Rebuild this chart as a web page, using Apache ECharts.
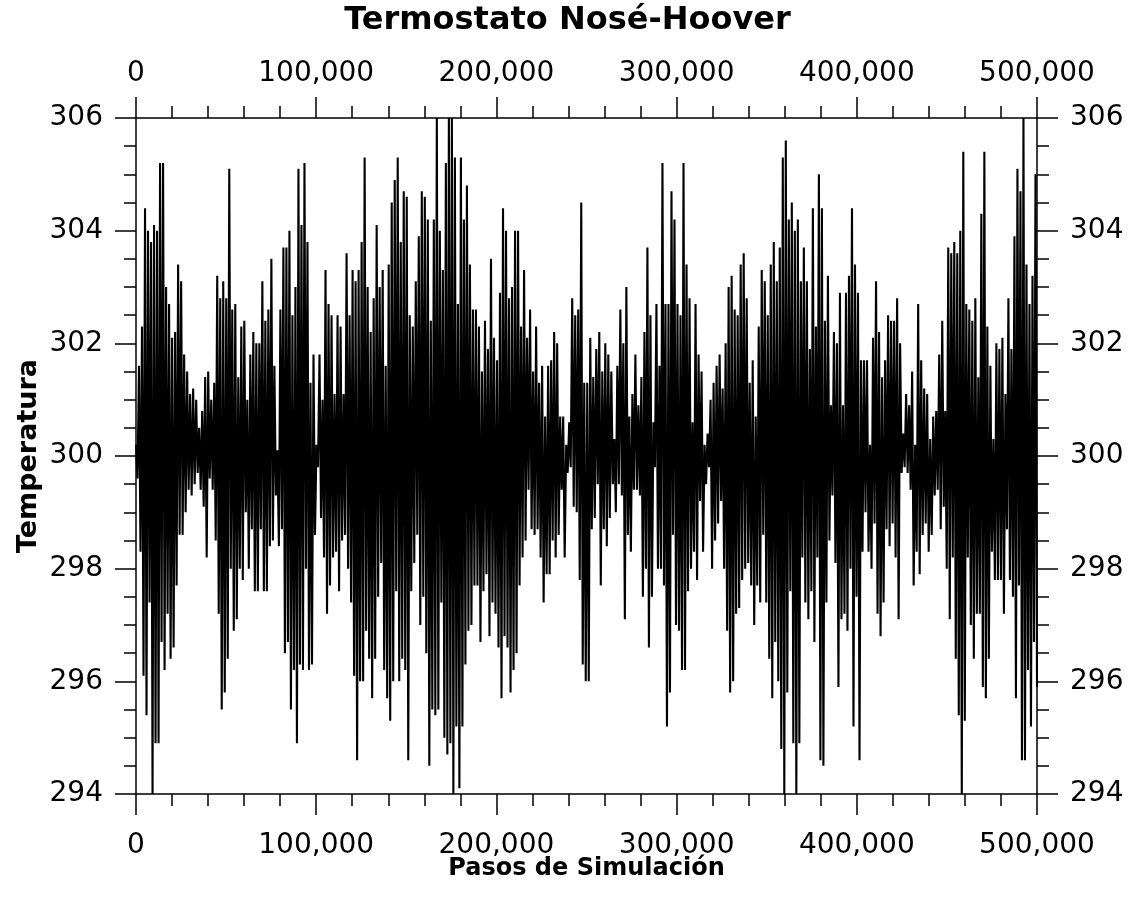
<!DOCTYPE html>
<html><head><meta charset="utf-8">
<script src="https://cdn.jsdelivr.net/npm/echarts@6/dist/echarts.min.js"></script>
<style>html,body{margin:0;padding:0;background:#fff}#c{width:1135px;height:907px}</style>
</head><body><div id="c"></div>
<script>
const chartTitle = 'Termostato Nosé-Hoover';
const xName = 'Pasos de Simulación';
const yName = 'Temperatura';
const xTicks = [0, 100000, 200000, 300000, 400000, 500000];
const yTicks = [294, 296, 298, 300, 302, 304, 306];
const totalSteps = 500000;

// Temperature samples (alternating local highs / lows), in six segments
const seg1 = [300.2,299.6, 301.6,298.3, 302.3,296.1, 304.4,295.4, 304.0,297.4, 303.8,294.0, 304.1,294.9, 304.0,294.9, 305.2,296.7, 305.2,296.2,
303.0,297.2, 302.7,296.4, 302.1,296.6, 302.2,297.7, 303.4,298.6, 303.1,298.6, 301.8,299.0, 301.5,299.4, 301.1,299.3, 301.2,299.5,
301.0,299.7, 300.5,299.4, 300.8,299.1, 301.4,298.2, 301.5,299.6, 301.0,299.4, 301.3,298.5, 303.2,297.2, 302.8,295.5, 303.1,295.8,
302.8,296.4, 305.1,298.0, 302.6,296.9, 302.7,297.1, 301.4,298.0, 302.3,297.8, 302.4,299.0, 301.0,298.0, 301.8,298.7, 302.2,297.6,
302.0,297.6, 302.0,298.7, 303.1,297.6, 302.4,297.6, 302.6,298.4, 303.5,298.5, 301.6,299.3, 300.1,298.4, 302.6,298.7, 303.7,296.5];
const seg2 = [303.7,296.7, 304.0,295.5, 302.5,296.2, 303.0,294.9, 305.1,296.3, 304.1,296.2, 305.2,298.0, 303.8,296.2, 301.3,296.3, 301.8,298.6,
300.2,299.8, 301.8,298.9, 301.0,298.2, 303.3,297.2, 302.7,297.7, 302.5,298.2, 301.1,298.3, 302.5,297.6, 302.3,298.5, 301.1,298.6,
303.6,298.0, 302.5,297.4, 303.3,296.1, 303.1,294.6, 303.3,296.0, 303.8,296.0, 305.3,296.9, 303.0,296.4, 302.2,295.7, 302.8,296.4,
304.1,297.5, 303.0,298.1, 303.3,296.2, 301.6,295.7, 303.4,295.3, 304.5,296.0, 304.9,297.6, 305.3,296.0, 303.8,296.4, 304.7,296.2,
304.6,294.6, 302.5,297.6, 302.3,298.1, 303.1,298.6, 303.9,297.0, 304.7,297.5, 304.6,296.5, 304.2,294.5, 302.4,295.5, 304.2,295.4];
const seg3 = [306.0,295.5, 304.0,297.4, 303.3,295.0, 305.2,294.7, 306.0,294.9, 306.0,294.0, 305.3,295.2, 302.7,294.1, 305.3,295.2, 304.2,296.3,
304.8,296.9, 303.4,297.0, 302.6,297.7, 302.6,297.7, 302.3,296.7, 301.5,297.6, 302.4,297.9, 301.9,296.8, 303.5,297.4, 302.1,297.2,
301.7,296.6, 302.9,295.7, 304.4,296.8, 304.0,296.6, 302.8,295.8, 303.0,296.2, 304.0,296.5, 304.0,297.7, 302.3,298.2, 303.3,298.5,
302.1,299.4, 302.6,298.7, 301.5,298.6, 302.3,298.7, 301.3,298.2, 301.6,297.4, 300.7,297.9, 301.6,297.9, 301.7,298.5, 302.2,298.2,
302.0,298.6, 300.7,299.4, 300.7,298.2, 300.2,299.7, 300.6,299.8, 302.8,299.1, 302.5,299.0, 302.6,297.8, 304.5,296.3, 301.3,296.0];
const seg4 = [301.3,296.0, 302.1,298.7, 301.4,298.9, 301.9,299.5, 302.2,297.7, 301.5,298.7, 302.0,298.4, 301.8,298.9, 301.5,299.5, 300.3,299.0,
301.6,299.5, 302.6,299.3, 302.0,297.1, 303.0,298.6, 300.7,298.3, 301.1,299.4, 301.8,299.4, 300.9,299.3, 301.4,297.5, 302.2,298.0,
303.7,296.6, 302.5,297.5, 300.6,299.8, 302.7,298.0, 301.6,298.0, 305.2,297.7, 302.7,295.2, 302.7,295.8, 304.7,298.6, 304.2,297.0,
302.7,296.9, 302.5,296.2, 305.2,296.2, 303.4,297.6, 302.8,298.0, 300.6,298.3, 302.7,297.8, 301.8,299.2, 301.5,298.3, 300.2,299.5,
300.4,299.8, 301.0,298.0, 301.3,298.5, 301.6,298.8, 301.8,299.2, 301.2,298.0, 302.0,296.9, 303.0,295.8, 303.2,296.0, 302.6,297.2];
const seg5 = [302.5,297.3, 303.4,297.8, 303.6,298.0, 302.8,298.1, 301.3,297.7, 301.7,297.0, 300.7,297.7, 302.3,297.4, 303.3,298.6, 303.1,297.4,
302.5,296.4, 303.4,295.7, 303.8,296.7, 303.1,296.0, 303.7,294.8, 305.3,294.0, 305.6,295.8, 304.2,297.6, 304.5,294.9, 304.0,294.0,
304.2,294.9, 303.1,298.2, 303.7,297.4, 303.1,297.1, 301.9,297.6, 304.4,296.7, 302.3,298.2, 305.0,294.6, 304.4,294.5, 302.4,297.4,
303.2,298.5, 300.9,299.3, 302.2,298.1, 302.0,295.9, 302.9,297.1, 300.9,297.2, 302.9,296.9, 303.2,298.0, 304.4,295.2, 303.4,297.5,
302.9,294.6, 301.7,298.3, 301.7,299.0, 301.7,298.3, 300.2,298.0, 302.1,298.8, 303.1,297.2, 302.2,296.8, 301.4,297.4, 301.7,298.7];
const seg6 = [302.5,298.4, 302.4,298.8, 302.4,298.2, 302.8,297.1, 302.0,299.7, 300.4,299.8, 301.1,299.7, 300.9,299.4, 301.5,297.7, 300.2,298.3,
302.7,297.9, 301.7,298.6, 301.2,298.8, 301.1,298.3, 300.3,298.6, 300.7,299.3, 300.8,299.4, 301.8,298.7, 302.4,299.1, 300.8,298.0,
303.7,297.1, 303.6,298.2, 303.8,296.4, 303.6,295.4, 304.0,294.0, 305.4,295.3, 302.7,298.2, 302.6,297.0, 302.4,296.4, 302.8,297.2,
301.4,297.2, 304.3,295.9, 305.4,295.7, 302.3,296.4, 301.6,298.3, 300.3,297.8, 302.0,297.8, 301.9,297.8, 302.1,297.2, 301.1,298.7,
302.8,297.8, 301.9,297.5, 303.9,295.7, 305.1,297.7, 304.7,294.6, 306.0,294.6, 303.4,296.2, 302.7,295.2, 303.2,296.7, 305.0,295.9];

const temperature = [].concat(seg1, seg2, seg3, seg4, seg5, seg6);
const sampleStep = totalSteps / (temperature.length - 1);
const seriesData = temperature.map((t, i) => [i * sampleStep, t]);

const FONT = 'DejaVu Sans';
const fmtX = v => String(Math.round(v)).replace(/\B(?=(\d{3})+(?!\d))/g, ',');

function xAxisCfg(pos, withName) {
  return {
    type: 'value', position: pos,
    min: xTicks[0], max: xTicks[xTicks.length - 1], interval: xTicks[1] - xTicks[0],
    name: withName ? xName : '', nameLocation: 'middle', nameGap: 63, nameMoveOverlap: false,
    nameTextStyle: { fontFamily: FONT, fontWeight: 'bold', fontSize: 24, color: '#000' },
    axisLine: { show: true, onZero: false, lineStyle: { color: '#000', width: 1.5 } },
    axisTick: { show: true, inside: false, length: 21, lineStyle: { color: '#000', width: 1.5 } },
    minorTick: { show: true, splitNumber: 5, length: 12, lineStyle: { color: '#000', width: 1.5 } },
    splitLine: { show: false }, minorSplitLine: { show: false },
    axisLabel: { show: true, margin: pos === 'top' ? 30 : 38, fontFamily: FONT, fontSize: 28, color: '#000',
      formatter: fmtX, showMinLabel: true, showMaxLabel: true, hideOverlap: false }
  };
}
function yAxisCfg(pos, withName) {
  return {
    type: 'value', position: pos,
    min: yTicks[0], max: yTicks[yTicks.length - 1], interval: yTicks[1] - yTicks[0],
    name: withName ? yName : '', nameLocation: 'middle', nameGap: 94, nameMoveOverlap: false,
    nameTextStyle: { fontFamily: FONT, fontWeight: 'bold', fontSize: 27, color: '#000' },
    axisLine: { show: true, onZero: false, lineStyle: { color: '#000', width: 1.5 } },
    axisTick: { show: true, inside: false, length: 21, lineStyle: { color: '#000', width: 1.5 } },
    minorTick: { show: true, splitNumber: 4, length: 12, lineStyle: { color: '#000', width: 1.5 } },
    splitLine: { show: false }, minorSplitLine: { show: false },
    axisLabel: { show: true, margin: 33, fontFamily: FONT, fontSize: 28, color: '#000',
      showMinLabel: true, showMaxLabel: true, hideOverlap: false }
  };
}

const chart = echarts.init(document.getElementById('c'), null, { renderer: 'canvas' });
chart.setOption({
  animation: false,
  backgroundColor: '#fff',
  title: { text: chartTitle, left: 'center', top: 5, padding: 0,
    textStyle: { fontFamily: FONT, fontWeight: 'bold', fontSize: 32, color: '#000' } },
  grid: { left: 136, right: 98, top: 118, bottom: 113, containLabel: false },
  xAxis: [xAxisCfg('bottom', true), xAxisCfg('top', false)],
  yAxis: [yAxisCfg('left', true), yAxisCfg('right', false)],
  series: [{
    type: 'line', xAxisIndex: 0, yAxisIndex: 0,
    data: seriesData, showSymbol: false, symbol: 'none', sampling: false,
    lineStyle: { color: '#000', width: 2.1 }, clip: true
  }]
});
</script>
</body></html>
